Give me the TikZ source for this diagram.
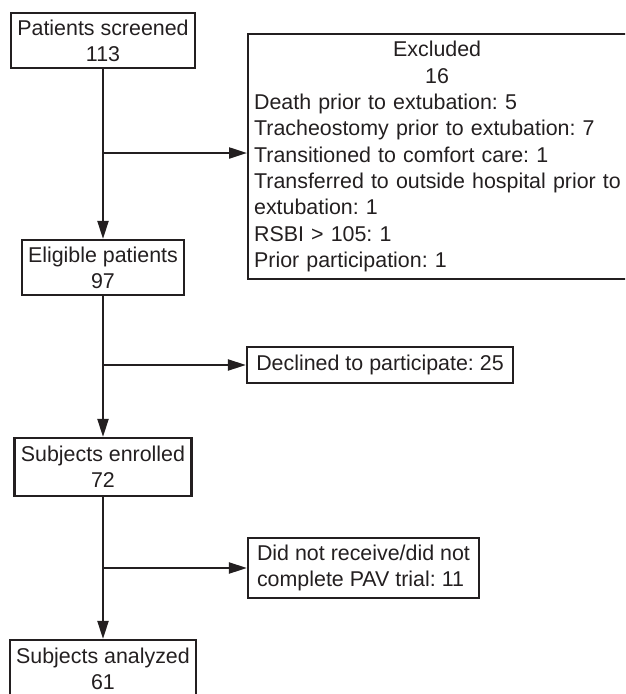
\documentclass[tikz,border=0pt]{standalone}
\usepackage{fontspec}
\setmainfont{Liberation Sans}
\usetikzlibrary{arrows.meta}
\definecolor{ink}{HTML}{231F20}
\frenchspacing

\tikzset{
  box/.style={draw=ink, line width=2.2pt, text=ink, inner xsep=6pt, inner ysep=4pt,
    align=center, font=\fontsize{21.4}{26.3}\selectfont},
  flow/.style={draw=ink, line width=2.2pt, -{Triangle[length=18pt,width=11pt]}},
}

\begin{document}
\begin{tikzpicture}[x=1pt, y=-1pt]
    \clip (0,0) rectangle (625,694);
    \node[box, minimum width=184pt, minimum height=55pt] (screened) at (103,40.5) {Patients screened\\113};
    \node[box, minimum width=162pt, minimum height=55pt] (eligible) at (103,267.5) {Eligible patients\\97};
    \node[box, minimum width=177pt, minimum height=58pt] (enrolled) at (103,467) {Subjects enrolled\\72};
    \node[box, minimum width=186pt, minimum height=58pt] (analyzed) at (103,669) {Subjects analyzed\\61};
    \node[box, anchor=north west, text width=384pt, align=left, minimum height=245pt] (excluded) at (247,33)
      {\makebox[366pt]{Excluded}\\
       \makebox[366pt]{16}\\
       Death prior to extubation: 5\\
       Tracheostomy prior to extubation: 7\\
       Transitioned to comfort care: 1\\
       Transferred to outside hospital prior to\\
       extubation: 1\\
       RSBI > 105: 1\\
       Prior participation: 1};
    \node[box, minimum width=266pt, minimum height=36pt] (declined) at (380,365) {Declined to participate: 25};
    \node[box, align=left, minimum width=231pt, minimum height=60pt] (notdone) at (363.5,568)
      {Did not receive/did not\\complete PAV trial: 11};
    \coordinate (j1) at (103,153);
    \coordinate (j2) at (103,365);
    \coordinate (j3) at (103,568);
    \draw[flow] (screened) -- (eligible);
    \draw[flow] (eligible) -- (enrolled);
    \draw[flow] (enrolled) -- (analyzed);
    \draw[flow] (j1) -- (j1 -| excluded.west);
    \draw[flow] (j2) -- (declined);
    \draw[flow] (j3) -- (notdone);
\end{tikzpicture}
\end{document}
